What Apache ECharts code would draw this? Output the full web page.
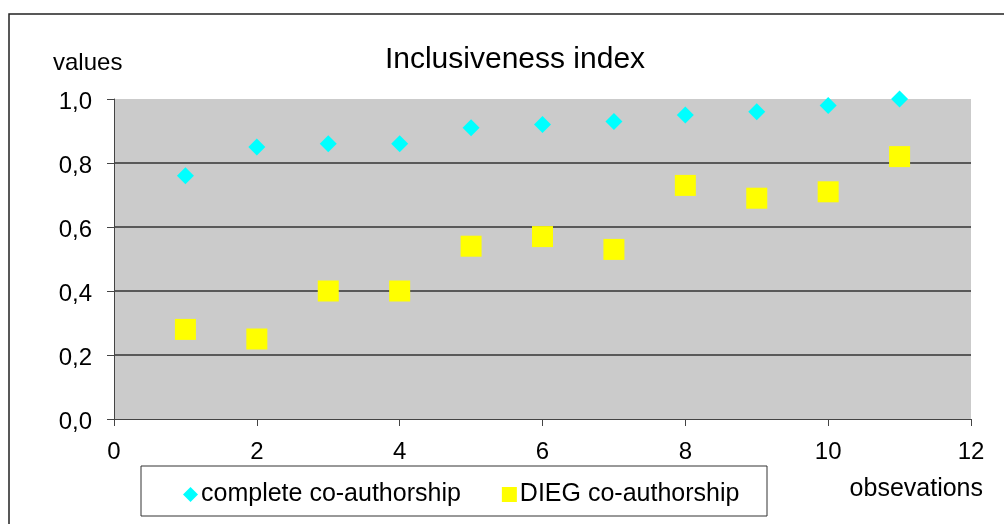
<!DOCTYPE html>
<html>
<head>
<meta charset="utf-8">
<script src="https://cdn.jsdelivr.net/npm/echarts@6/dist/echarts.min.js"></script>
<style>
  html, body { margin: 0; padding: 0; background: #ffffff; }
  #chart { width: 1004px; height: 524px; }
</style>
</head>
<body>
<div id="chart"></div>
<script>
// Observation numbers on the horizontal axis
const observations = [1, 2, 3, 4, 5, 6, 7, 8, 9, 10, 11];
// Inclusiveness index per observation
const completeCoauthorship = [0.76, 0.85, 0.86, 0.86, 0.91, 0.92, 0.93, 0.95, 0.96, 0.98, 1.00];
const diegCoauthorship = [0.28, 0.25, 0.40, 0.40, 0.54, 0.57, 0.53, 0.73, 0.69, 0.71, 0.82];
const seriesNames = ['complete co-authorship', 'DIEG co-authorship'];
const titleText = 'Inclusiveness index';
const yAxisTitle = 'values';
const xAxisTitle = 'obsevations';

const FONT = '"Liberation Sans", Arial, Helvetica, sans-serif';

const toPairs = (xs, ys) => xs.map((x, i) => [x, ys[i]]);

const chart = echarts.init(document.getElementById('chart'), null, { renderer: 'canvas' });

chart.setOption({
  animation: false,
  backgroundColor: '#ffffff',
  textStyle: { fontFamily: FONT },
  grid: {
    left: 114, right: 33, top: 99, bottom: 105,
    show: true, backgroundColor: '#cbcbcb', borderWidth: 0
  },
  xAxis: {
    type: 'value', min: 0, max: 12, interval: 2,
    axisLine: { show: true, onZero: false, lineStyle: { color: '#444444', width: 1 } },
    axisTick: { show: true, length: 7, lineStyle: { color: '#444444', width: 1 } },
    axisLabel: { margin: 21, fontSize: 24, color: '#000000', fontFamily: FONT },
    splitLine: { show: false }
  },
  yAxis: {
    type: 'value', min: 0, max: 1, interval: 0.2,
    axisLine: { show: true, lineStyle: { color: '#444444', width: 1 } },
    axisTick: { show: true, length: 7, lineStyle: { color: '#444444', width: 1 } },
    axisLabel: {
      margin: 22, color: '#000000',
      formatter: v => '{v|' + v.toFixed(1).replace('.', ',') + '}',
      rich: {
        v: { fontSize: 24, fontFamily: FONT, color: '#000000', padding: [7, 0, 0, 0] }
      }
    },
    splitLine: {
      show: true, showMinLine: false, showMaxLine: false,
      lineStyle: { color: '#333333', width: 1.5 }
    }
  },
  legend: {
    left: 183, top: 482, padding: 0,
    itemWidth: 15, itemHeight: 15, itemGap: 41,
    textStyle: { fontSize: 25, color: '#000000', fontFamily: FONT, padding: [0, 0, 0, -2] },
    data: [
      { name: seriesNames[0], icon: 'diamond' },
      { name: seriesNames[1], icon: 'rect' }
    ]
  },
  graphic: [
    {
      type: 'rect', z: -1, silent: true,
      shape: { x: 9, y: 14, width: 1100, height: 600 },
      style: { fill: 'none', stroke: '#222222', lineWidth: 1.5 }
    },
    {
      type: 'rect', z: 1, silent: true,
      shape: { x: 141, y: 466, width: 626, height: 50 },
      style: { fill: '#ffffff', stroke: '#333333', lineWidth: 1 }
    },
    {
      type: 'text', silent: true, x: 515, y: 60,
      style: { text: titleText, fontSize: 30, fontFamily: FONT, fill: '#000000', align: 'center', verticalAlign: 'middle' }
    },
    {
      type: 'text', silent: true, x: 53, y: 63,
      style: { text: yAxisTitle, fontSize: 24, fontFamily: FONT, fill: '#000000', align: 'left', verticalAlign: 'middle' }
    },
    {
      type: 'text', silent: true, x: 983, y: 489,
      style: { text: xAxisTitle, fontSize: 25, fontFamily: FONT, fill: '#000000', align: 'right', verticalAlign: 'middle' }
    }
  ],
  series: [
    {
      name: seriesNames[0], type: 'scatter',
      symbol: 'diamond', symbolSize: 17,
      itemStyle: { color: '#00ffff', opacity: 1 },
      emphasis: { disabled: true },
      data: toPairs(observations, completeCoauthorship)
    },
    {
      name: seriesNames[1], type: 'scatter',
      symbol: 'rect', symbolSize: 21,
      itemStyle: { color: '#ffff00', opacity: 1 },
      emphasis: { disabled: true },
      data: toPairs(observations, diegCoauthorship)
    }
  ]
});
</script>
</body>
</html>
